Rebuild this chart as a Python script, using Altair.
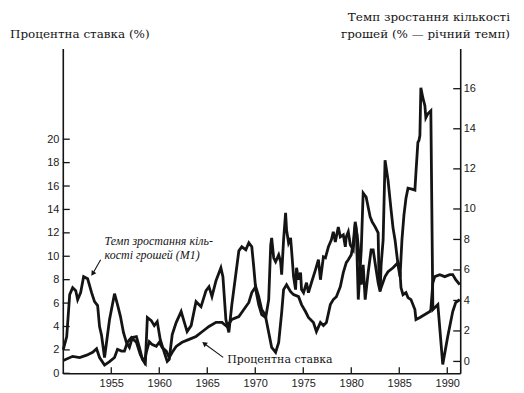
import altair as alt
import pandas as pd

# Interest rate (left axis, %)
years_rate = [1950.0, 1950.98, 1951.71, 1952.44, 1953.06, 1953.47, 1953.78, 1954.30, 1954.82, 1955.34,
              1955.65, 1956.06, 1956.37, 1956.68, 1957.10, 1957.62, 1958.03, 1958.45, 1958.65, 1958.96,
              1959.27, 1959.69, 1960.00, 1960.31, 1960.73, 1961.04, 1961.35, 1961.76, 1962.38, 1963.11,
              1963.83, 1964.46, 1965.18, 1965.91, 1966.53, 1967.05, 1967.56, 1968.29, 1968.81, 1969.33,
              1969.64, 1970.05, 1970.36, 1970.67, 1970.88, 1971.09, 1971.40, 1971.71, 1972.12, 1972.44,
              1972.75, 1972.95, 1973.26, 1973.68, 1973.99, 1974.51, 1974.82, 1975.23, 1975.54, 1976.06,
              1976.37, 1976.79, 1977.10, 1977.41, 1977.82, 1978.13, 1978.45, 1978.86, 1979.17, 1979.48,
              1979.69, 1980.00, 1980.21, 1980.41, 1980.52, 1980.73, 1981.04, 1981.24, 1981.55, 1981.76,
              1981.97, 1982.18, 1982.49, 1982.80, 1982.90, 1983.11, 1983.52, 1983.83, 1984.35, 1984.87,
              1985.08, 1985.18, 1985.39, 1985.70, 1985.91, 1986.22, 1986.63, 1986.74, 1987.15, 1987.67,
              1988.19, 1988.29, 1988.50, 1988.70, 1989.22, 1989.74, 1990.26, 1990.57, 1990.88, 1991.30]
rate = [1.1, 1.45, 1.35, 1.55, 1.8, 2.1, 1.35, 0.7, 1.0, 1.35,
        2.05, 1.9, 1.9, 2.65, 3.05, 2.65, 1.6, 0.95, 1.8, 2.7,
        2.45, 2.3, 2.65, 2.2, 1.9, 1.35, 1.8, 2.3, 2.65, 2.9,
        3.15, 3.55, 4.0, 4.35, 4.35, 4.0, 4.6, 4.85, 5.45, 6.05,
        6.9, 7.4, 6.55, 5.45, 5.19, 4.77, 3.49, 2.21, 1.79, 2.64,
        5.19, 7.15, 7.57, 6.98, 6.72, 6.55, 5.87, 5.28, 4.77, 4.34,
        3.57, 4.34, 4.09, 4.34, 5.87, 6.3, 6.55, 7.4, 8.6, 9.45,
        9.7, 10.13, 11.15, 12.94, 12.43, 6.3, 10.55, 15.4, 15.06, 14.21,
        13.36, 12.94, 12.51, 12.0, 7.57, 7.32, 8.26, 8.68, 9.02, 9.45,
        8.6, 7.32, 6.72, 6.89, 6.47, 6.3, 5.45, 4.6, 4.77, 5.02,
        5.28, 5.45, 7.74, 8.26, 8.43, 8.26, 8.43, 8.43, 8.0, 7.57]

# Money (M1) growth (right axis, % annual rate)
years_money = [1950.0, 1950.36, 1950.67, 1950.98, 1951.30, 1951.50, 1951.81, 1952.12, 1952.54, 1952.95,
               1953.26, 1953.58, 1953.78, 1953.99, 1954.30, 1954.82, 1955.34, 1955.65, 1955.96, 1956.27,
               1956.58, 1956.89, 1957.20, 1957.62, 1957.93, 1958.24, 1958.55, 1958.76, 1959.17, 1959.48,
               1959.79, 1960.10, 1960.52, 1960.83, 1961.04, 1961.35, 1961.76, 1962.28, 1962.59, 1962.90,
               1963.32, 1963.83, 1964.35, 1964.87, 1965.18, 1965.49, 1965.91, 1966.42, 1966.63, 1966.94,
               1967.25, 1967.56, 1967.98, 1968.29, 1968.60, 1969.02, 1969.33, 1969.64, 1969.84, 1970.05,
               1970.36, 1970.67, 1971.09, 1971.40, 1971.61, 1971.71, 1971.92, 1972.12, 1972.44, 1972.64,
               1972.75, 1972.95, 1973.16, 1973.26, 1973.47, 1973.68, 1973.78, 1973.99, 1974.20, 1974.30,
               1974.51, 1974.72, 1974.82, 1975.03, 1975.34, 1975.54, 1975.85, 1976.27, 1976.58, 1976.79,
               1977.10, 1977.31, 1977.62, 1977.93, 1978.13, 1978.34, 1978.65, 1978.86, 1979.17, 1979.38,
               1979.48, 1979.69, 1979.90, 1980.21, 1980.41, 1980.62, 1980.83, 1981.04, 1981.24, 1981.45,
               1981.76, 1982.07, 1982.28, 1982.59, 1982.80, 1983.01, 1983.11, 1983.32, 1983.52, 1983.83,
               1984.15, 1984.35, 1984.56, 1984.87, 1985.08, 1985.28, 1985.49, 1985.70, 1985.91, 1986.32,
               1986.63, 1986.74, 1986.94, 1987.05, 1987.15, 1987.25, 1987.46, 1987.67, 1987.77, 1987.98,
               1988.29, 1988.50, 1989.02, 1989.53, 1990.05, 1990.57, 1990.88, 1991.30]
money = [0.78, 1.63, 4.38, 4.84, 4.64, 4.05, 4.51, 5.56, 5.42, 4.51,
         3.92, 3.66, 2.29, 1.70, 0.26, 2.75, 4.44, 3.73, 2.94, 1.90,
         1.24, 0.92, 1.57, 1.63, 0.92, 0.13, -0.13, 2.88, 2.68, 2.35,
         2.61, 1.44, 0.59, 0.0, 0.13, 1.76, 2.55, 3.27, 2.61, 1.96,
         2.35, 3.92, 3.59, 4.64, 4.90, 4.25, 5.29, 6.14, 5.56, 2.75,
         1.90, 3.73, 5.75, 7.25, 7.52, 7.32, 7.78, 7.52, 6.21, 4.71,
         3.73, 3.07, 2.88, 4.05, 7.65, 8.10, 6.80, 6.54, 6.99, 6.54,
         5.69, 7.97, 9.74, 8.63, 7.78, 8.10, 7.32, 5.56, 4.71, 6.14,
         5.36, 5.82, 4.71, 4.51, 5.16, 4.51, 5.16, 6.01, 6.67, 5.36,
         6.86, 6.80, 7.52, 7.97, 8.50, 7.84, 8.82, 8.17, 8.30, 7.52,
         8.17, 8.50, 7.65, 7.32, 8.95, 8.30, 6.86, 5.03, 6.34, 4.05,
         5.82, 7.32, 7.32, 6.01, 5.16, 4.58, 6.34, 7.97, 12.43, 11.44,
         9.93, 8.76, 7.97, 6.34, 5.56, 7.97, 9.61, 10.54, 11.04, 10.99,
         10.94, 11.83, 13.32, 13.42, 13.66, 16.04, 15.54, 15.15, 14.55, 14.75,
         14.90, 3.40, 3.73, -0.20, 1.63, 3.27, 3.86, 4.05]

left_ticks = [0, 2, 4, 6, 8, 10, 12, 14, 16, 18, 20]
right_ticks = [0, 2, 4, 6, 8, 10, 12, 14, 16]
x_ticks = [1955, 1960, 1965, 1970, 1975, 1980, 1985, 1990]

left_title = "Процентна ставка (%)"
right_title = ["Темп зростання кількості", "грошей (% — річний темп)"]
money_label = ["Темп зростання кіль-", "кості грошей (M1)"]
rate_label = "Процентна ставка"

W, H = 399, 326
INK = "#141414"
SERIF = "DejaVu Serif"
SANS = "Liberation Sans"

x_scale = alt.Scale(domain=[1949.95, 1991.35], nice=False, zero=False)
left_scale = alt.Scale(domain=[0, 27.74], nice=False, zero=False)
right_scale = alt.Scale(domain=[-0.78, 10, 18], range=[H, 161, 0], nice=False, zero=False)

common_axis = dict(title=None, grid=False, ticks=False, tickSize=0, labelFont=SANS,
                   labelFontSize=11, labelColor="#222", domainColor=INK, domainWidth=1.6)
x_enc = alt.X("year:Q", scale=x_scale,
              axis=alt.Axis(values=x_ticks, format="d", labelPadding=4, **common_axis))
yl_enc = alt.Y("v:Q", scale=left_scale,
               axis=alt.Axis(orient="left", values=left_ticks, labelPadding=4, **common_axis))
yr_enc = alt.Y("v:Q", scale=right_scale,
               axis=alt.Axis(orient="right", values=right_ticks, labelPadding=3, **common_axis))

rate_df = pd.DataFrame({"year": years_rate, "v": rate})
money_df = pd.DataFrame({"year": years_money, "v": money})

rate_line = alt.Chart(rate_df).mark_line(color=INK, strokeWidth=2.8).encode(x=x_enc, y=yl_enc)
money_line = alt.Chart(money_df).mark_line(color=INK, strokeWidth=2.8).encode(x=x_enc, y=yr_enc)

lt = alt.Chart(pd.DataFrame({"v": left_ticks})).mark_rule(color=INK, strokeWidth=1.3).encode(
    y=yl_enc, x=alt.value(0), x2=alt.value(7))
rt = alt.Chart(pd.DataFrame({"v": right_ticks})).mark_rule(color=INK, strokeWidth=1.3).encode(
    y=yr_enc, x=alt.value(W - 7), x2=alt.value(W))
bt = alt.Chart(pd.DataFrame({"year": x_ticks})).mark_rule(color=INK, strokeWidth=1.3).encode(
    x=x_enc, y=alt.value(H), y2=alt.value(H - 6))

one = pd.DataFrame({"a": [0]})

def text(t, x, y, align="left", size=12, style="normal", font=SERIF):
    return alt.Chart(one).mark_text(text=t, align=align, baseline="middle", font=font,
                                    fontSize=size, fontStyle=style, color=INK).encode(
        x=alt.value(x), y=alt.value(y))

titles = [
    text(left_title, -53, -15, size=12),
    text(right_title[0], 449, -32, align="right", size=12),
    text(right_title[1], 449, -15, align="right", size=12),
    text(money_label[0], 42, 193, size=12, style="italic", font="Liberation Serif"),
    text(money_label[1], 42, 207, size=12, style="italic", font="Liberation Serif"),
    text(rate_label, 165, 313, size=11),
]

def arrow(x1, y1, x2, y2, ang):
    shaft = alt.Chart(one).mark_rule(color=INK, strokeWidth=1.1).encode(
        x=alt.value(x1), y=alt.value(y1), x2=alt.value(x2), y2=alt.value(y2))
    head = alt.Chart(one).mark_point(shape="triangle-up", filled=True, size=32, color=INK,
                                     opacity=1, angle=ang).encode(x=alt.value(x2), y=alt.value(y2))
    return [shaft, head]

arrows = arrow(38, 212, 30, 226, 215) + arrow(161, 310, 142, 296, 307)

left_group = alt.layer(rate_line, lt, bt, *titles, *arrows)
right_group = alt.layer(money_line, rt)

chart = alt.layer(left_group, right_group).resolve_scale(y="independent").properties(
    width=W, height=H,
    autosize=alt.AutoSizeParams(type="none"),
    padding={"left": 55, "top": 40, "right": 56, "bottom": 18},
    background="white",
).configure_view(stroke=None)

chart.save("out.html", embed_options={"renderer": "svg", "actions": False})
